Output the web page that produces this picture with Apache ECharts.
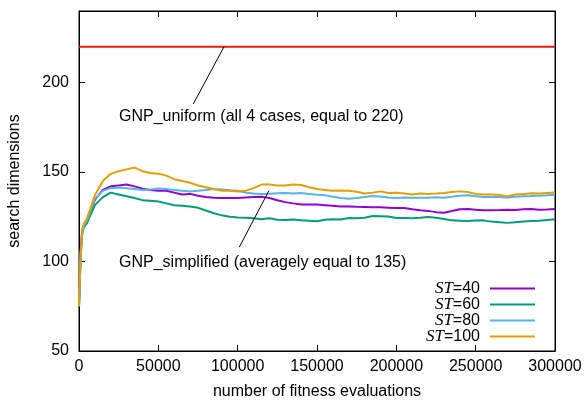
<!DOCTYPE html>
<html><head><meta charset="utf-8">
<script src="https://cdn.jsdelivr.net/npm/echarts@6/dist/echarts.min.js"></script>
<style>html,body{margin:0;padding:0;background:#fff}#c{width:585px;height:401px}</style>
</head><body><div id="c"></div>
<script>
var xTicks = [0, 50000, 100000, 150000, 200000, 250000, 300000];
var yTicks = [50, 100, 150, 200];
var evals = [0,1000,2000,3000,5000,10000,15000,20000,25000,30000,35000,40000,45000,50000,55000,60000,65000,70000,75000,80000,85000,90000,95000,100000,105000,110000,115000,120000,125000,130000,135000,140000,145000,150000,155000,160000,165000,170000,175000,180000,185000,190000,195000,200000,205000,210000,215000,220000,225000,230000,235000,240000,245000,250000,255000,260000,265000,270000,275000,280000,285000,290000,295000,300000];
var st40 = [75,104,117,120,122.5,134.5,140,142,142.5,143,142,140.7,140,139.5,139.5,138.5,137.5,137.8,136.8,136,135.7,135.5,135.5,135.5,135.8,136,136.2,135.5,134.2,133.2,132.5,131.9,131.8,131.8,131.5,131.2,130.8,130.8,130.6,130.5,130.4,130.3,130.1,129.9,129.9,129.2,128.6,128.3,127.6,127.3,128.2,129.2,129.4,129,128.6,128.7,128.8,129,128.8,129.2,129.3,129,129.1,129.3];
var st60 = [75,102,115,119,121.5,131.5,136,138.5,137.5,136.5,135.5,134.3,134,133.5,132.5,131.5,131.2,130.8,130,128.5,127,125.8,125,124.6,124.4,124.2,123.6,124.2,123.4,123.2,123.5,123,122.8,122.5,123.4,123.6,123.5,124.3,124.2,124.5,125.4,125.3,125.2,124.3,124.3,124.2,124.5,124.9,124.5,123.8,123,122.8,122.6,122.9,123,122.3,122,121.6,122,122.3,122.6,122.8,123.2,123.6];
var st80 = [75,103,116,120,123,135,139.5,141,141.3,141,140.5,140,140.3,140.8,140.5,140,139.5,139.2,139.5,140,140.5,140.2,139.8,139.5,138.5,138,137.8,137.9,138.2,138.3,138,138.3,137.8,137.3,137,136.2,135.5,135.1,135.5,136,136.6,136.4,135.8,135.5,135.8,135.7,135.6,135.7,135.9,135.7,136.2,136.8,137,136.5,136,136,136.1,135.8,136.2,136.5,136.6,136.8,137,137.3];
var st100 = [75,105,118,121,124,137,145,149,150.5,151.5,152.5,150.5,149.5,149,148,146,145,144,142.5,141.5,140.5,139.5,139.5,139.2,139.5,141,143,143,142.5,142.5,143,142.8,141.5,140.5,140,139.5,139.7,139.5,139,138,138.5,139.2,138.3,138.5,138,137.5,138,137.8,138,138.3,138.8,139.2,138.8,137.8,137.5,137.5,137.2,136.4,137.5,137.8,138.2,138,138.3,138.6];
var uniformX = [0, 300000];
var uniformY = [220, 220];
var seriesNames = ['ST=40', 'ST=60', 'ST=80', 'ST=100'];
var seriesColors = ['#9400d3', '#009e73', '#56b4e9', '#e69f00'];
var seriesData = [st40, st60, st80, st100];
var noteUniform = 'GNP_uniform (all 4 cases, equal to 220)';
var noteSimplified = 'GNP_simplified (averagely equal to 135)';
var arrowUniform = [[91400, 220], [72000, 188]];
var arrowSimplified = [[119700, 139.6], [101000, 108]];

function pairs(xs, ys){ return xs.map(function(x,i){ return [x, ys[i]]; }); }
var FONT = '"Liberation Sans", Arial, Helvetica, sans-serif';
var FS = 16;
var chart = echarts.init(document.getElementById('c'), null, {renderer:'canvas'});
var series = seriesNames.map(function(n,i){
  return {name:n, type:'line', data:pairs(evals, seriesData[i]), showSymbol:false, symbol:'none',
    lineStyle:{color:seriesColors[i], width:2}, itemStyle:{color:seriesColors[i]}, z:3+i, animation:false};
});
series.unshift({name:'GNP_uniform', type:'line', data:pairs(uniformX, uniformY), symbol:'none',
  lineStyle:{color:'#e51e10', width:2}, itemStyle:{color:'#e51e10'}, z:2, animation:false});
series.push({name:'a1', type:'line', data:arrowUniform, symbol:'none', lineStyle:{color:'#000', width:1}, z:10, silent:true, animation:false});
series.push({name:'a2', type:'line', data:arrowSimplified, symbol:'none', lineStyle:{color:'#000', width:1}, z:10, silent:true, animation:false});

var legendCenters = [289, 305, 321, 337];
var legends = seriesNames.map(function(n,i){
  return {data:[n], right:50, top:legendCenters[i]-9, orient:'vertical', align:'right', icon:'rect',
    itemWidth:45, itemHeight:2, padding:0, selectedMode:false,
    formatter:function(name){ return '{i|ST}{n|' + name.slice(2) + '}'; },
    textStyle:{padding:[0,5,0,0], rich:{i:{fontFamily:'"Liberation Serif", "Times New Roman", serif', fontStyle:'italic', fontSize:FS+1, color:'#000'},
      n:{fontFamily:FONT, fontSize:FS, color:'#000'}}}};
});

var axisCommonX = {type:'value', min:0, max:300000, interval:50000,
  axisLine:{show:true, onZero:false, lineStyle:{color:'#000', width:1}}, axisTick:{show:true, inside:true, length:6, lineStyle:{color:'#000'}},
  splitLine:{show:false}};
var axisCommonY = {type:'value', min:50, max:240, interval:50,
  axisLine:{show:true, onZero:false, lineStyle:{color:'#000', width:1}}, axisTick:{show:true, inside:true, length:6, lineStyle:{color:'#000'}},
  splitLine:{show:false}};

chart.setOption({
  animation:false,
  backgroundColor:'#fff',
  grid:{left:79, right:30, top:11, bottom:50, containLabel:false, outerBoundsMode:'none', show:true, borderColor:'#000', borderWidth:1, backgroundColor:'transparent'},
  legend:legends,
  xAxis:[
    Object.assign({}, axisCommonX, {position:'bottom', name:'number of fitness evaluations', nameLocation:'middle', nameGap:33,
      nameTextStyle:{fontFamily:FONT, fontSize:FS, color:'#000'},
      axisLabel:{show:true, margin:8, fontFamily:FONT, fontSize:FS, color:'#000', formatter:function(v){ return xTicks.indexOf(v)>=0 ? String(v) : ''; }}}),
    Object.assign({}, axisCommonX, {position:'top', axisLabel:{show:false}})
  ],
  yAxis:[
    Object.assign({}, axisCommonY, {position:'left', name:'search dimensions', nameLocation:'middle', nameGap:56,
      nameTextStyle:{fontFamily:FONT, fontSize:FS, color:'#000'},
      axisLabel:{show:true, margin:10, showMaxLabel:false, fontFamily:FONT, fontSize:FS, color:'#000', formatter:function(v){ return yTicks.indexOf(v)>=0 ? String(v) : ''; }}}),
    Object.assign({}, axisCommonY, {position:'right', axisLabel:{show:false}})
  ],
  graphic:[
    {type:'text', left:119, top:109, style:{text:noteUniform, font:FS + 'px ' + FONT, fill:'#000'}, z:20},
    {type:'text', left:119, top:255, style:{text:noteSimplified, font:FS + 'px ' + FONT, fill:'#000'}, z:20}
  ],
  series:series
});
</script></body></html>
